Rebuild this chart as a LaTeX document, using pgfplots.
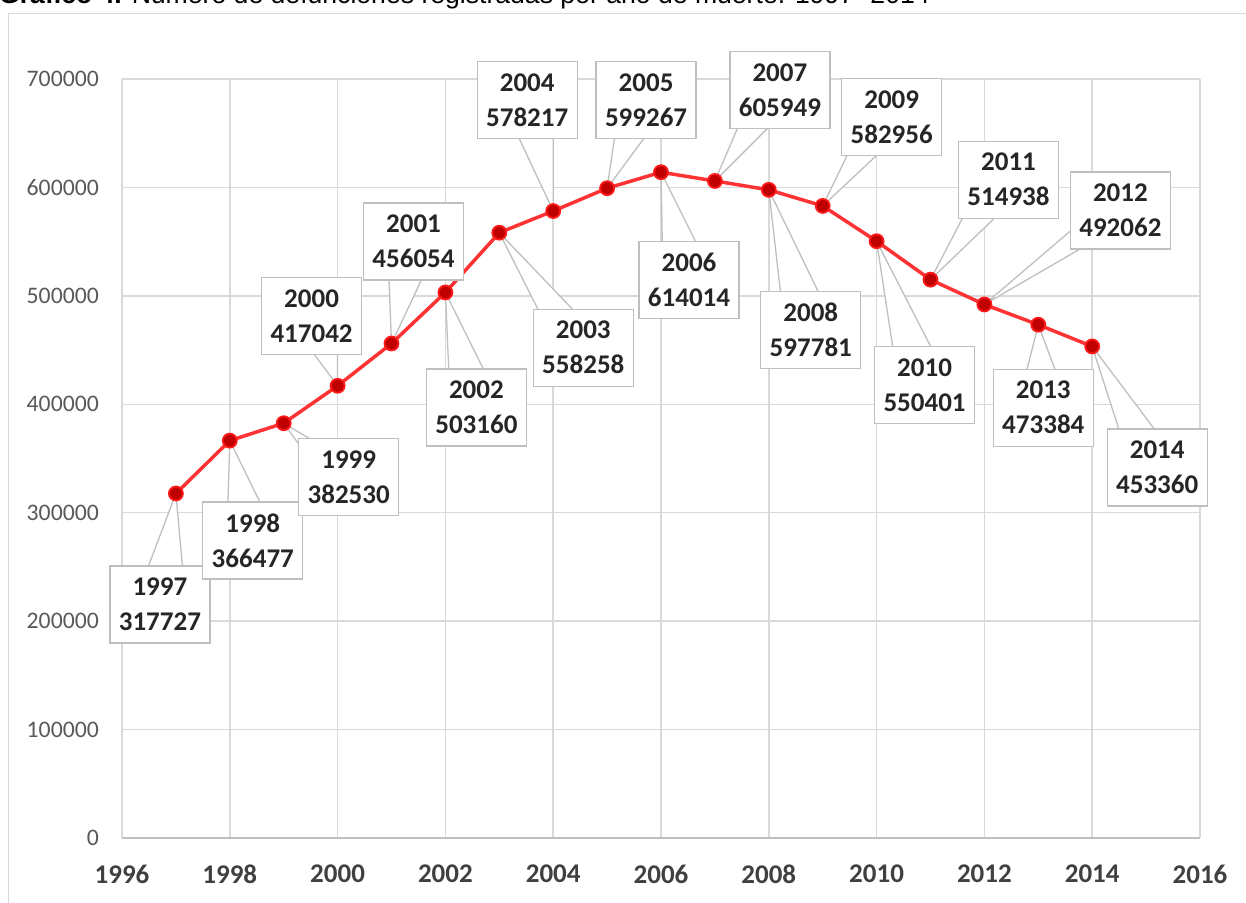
\documentclass[border=0pt]{standalone}
\usepackage{fontspec}
\setmainfont{Carlito}
\newfontfamily\titlefont{Liberation Sans}
\usepackage{pgfplots}
\pgfplotsset{compat=1.18}
\definecolor{gridgray}{HTML}{D9D9D9}
\definecolor{axisgray}{HTML}{BFBFBF}
\definecolor{boxgray}{HTML}{BFBFBF}
\definecolor{ytickgray}{HTML}{595959}
\definecolor{xtickgray}{HTML}{404040}
\definecolor{labeltext}{HTML}{262626}
\definecolor{linered}{HTML}{FF3333}
\definecolor{markred}{HTML}{C00000}
\definecolor{markedge}{HTML}{FF1A1A}
\newcommand{\callout}[4]{%
  \filldraw[fill=white,draw=boxgray,line width=1.3pt] (axis cs:#1,#2) -- ([shift={(#3pt-26pt,#4pt)}]axis cs:#1,#2) -- ([shift={(#3pt+26pt,#4pt)}]axis cs:#1,#2) -- cycle;
  \node[draw=boxgray,fill=white,line width=1.3pt,minimum width=100pt,minimum height=77pt,inner sep=0pt,align=center,font=\fontsize{27}{35}\selectfont\bfseries,text=labeltext] at ([shift={(#3pt,#4pt)}]axis cs:#1,#2) {#1\\#2};
}
\begin{document}
\begin{tikzpicture}
\useasboundingbox (0pt,0pt) rectangle (1246pt,902pt);
\clip (0pt,0pt) rectangle (1246pt,902pt);
\draw[gridgray, line width=1.5pt] (8.5pt,-10pt) -- (8.5pt,888.5pt) -- (1260pt,888.5pt);
\node[anchor=base west, inner sep=0pt, font=\titlefont\fontsize{26.6}{27}\selectfont] at (-1pt,898pt) {\textbf{Gráfico 4.} Número de defunciones registradas por año de muerte. 1997- 2014};
\begin{axis}[
  at={(122pt,64pt)}, anchor=south west,
  scale only axis, width=1078pt, height=759pt,
  xmin=1996, xmax=2016, ymin=0, ymax=700000,
  xtick={1996,1998,...,2016},
  ytick={0,100000,...,700000},
  scaled y ticks=false,
  /pgf/number format/fixed,
  /pgf/number format/precision=0,
  /pgf/number format/1000 sep={},
  /pgf/number format/assume math mode=true,
  xmajorgrids, ymajorgrids,
  major grid style={draw=gridgray, line width=1.5pt},
  major tick length=0pt,
  axis line style={draw=none},
  clip=false,
  yticklabel style={anchor=east, inner sep=0pt, xshift=-23pt, font=\fontsize{23.7}{24}\selectfont, text=ytickgray},
  xticklabel style={anchor=north, inner sep=0pt, yshift=-27pt, font=\fontsize{27}{28}\selectfont\bfseries, text=xtickgray},
]
\draw[axisgray, line width=1.5pt] (axis cs:1996,0) -- (axis cs:2016,0);
\addplot[color=linered, line width=3.5pt, mark=*, mark size=7pt,
  mark options={fill=markred, draw=markedge, line width=1.8pt}] coordinates {
(1997,317727) (1998,366477) (1999,382530) (2000,417042) (2001,456054)
(2002,503160) (2003,558258) (2004,578217) (2005,599267) (2006,614014)
(2007,605949) (2008,597781) (2009,582956) (2010,550401) (2011,514938)
(2012,492062) (2013,473384) (2014,453360)};
\callout{1997}{317727}{-16}{-111}
\callout{1998}{366477}{23}{-100}
\callout{1999}{382530}{65}{-54}
\callout{2000}{417042}{-26}{70}
\callout{2001}{456054}{22}{102}
\callout{2002}{503160}{31}{-115}
\callout{2003}{558258}{84}{-115}
\callout{2004}{578217}{-26}{111}
\callout{2005}{599267}{39}{88}
\callout{2006}{614014}{28}{-108}
\callout{2007}{605949}{65}{91}
\callout{2008}{597781}{42}{-140}
\callout{2009}{582956}{69}{89}
\callout{2010}{550401}{48}{-144}
\callout{2011}{514938}{78}{100}
\callout{2012}{492062}{136}{94}
\callout{2013}{473384}{5}{-83}
\callout{2014}{453360}{65}{-121}
\end{axis}
\end{tikzpicture}
\end{document}
